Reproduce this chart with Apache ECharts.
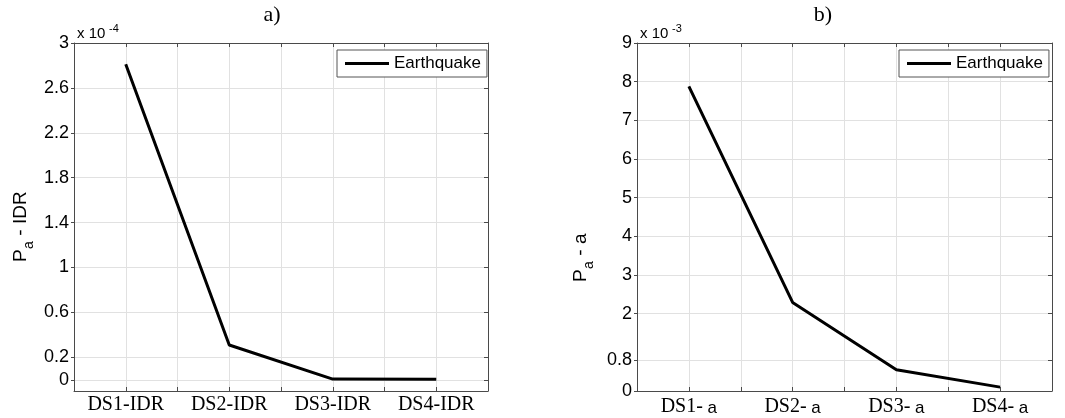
<!DOCTYPE html>
<html>
<head>
<meta charset="utf-8">
<script src="https://cdn.jsdelivr.net/npm/echarts@6/dist/echarts.min.js"></script>
<style>
  html, body { margin: 0; padding: 0; background: #fff; }
  #chart { width: 1065px; height: 418px; }
</style>
</head>
<body>
<div id="chart"></div>
<script>
// Damage states along the x axis (plotted at positions 1..4)
const damageStates = ['DS1', 'DS2', 'DS3', 'DS4'];
const statePositions = [1, 2, 3, 4];

// a) probability per damage state, inter-storey drift (units of 1e-4)
const idrValues = [2.81, 0.31, 0.006, 0.004];
// b) probability per damage state, acceleration (units of 1e-3)
const accValues = [7.88, 2.29, 0.55, 0.10];

// y tick positions
const idrTicks = [0, 0.2, 0.6, 1, 1.4, 1.8, 2.2, 2.6, 3];
const accTicks = [0, 0.8, 2, 3, 4, 5, 6, 7, 8, 9];

const seriesName = 'Earthquake';

const SANS = '"Liberation Sans", Arial, sans-serif';
const SERIF = '"Liberation Serif", "Times New Roman", serif';
const AXIS_COLOR = '#4a4a4a';
const GRID_COLOR = '#e1e1e1';

function pairs(values) {
  return statePositions.map((p, i) => [p, values[i]]);
}

function xAxisPair(gridIndex, labelFormatter, rich) {
  const common = {
    gridIndex, type: 'value', min: 0.5, max: 4.5, interval: 0.5,
    axisLine: { show: true, onZero: false, lineStyle: { color: AXIS_COLOR, width: 1 } },
    axisTick: { show: true, inside: true, length: 4, lineStyle: { color: AXIS_COLOR } }
  };
  return [
    Object.assign({}, common, {
      position: 'bottom',
      axisLabel: {
        show: true, margin: 4, color: '#000',
        fontFamily: SERIF, fontSize: 20,
        formatter: labelFormatter, rich: rich,
        showMinLabel: false, showMaxLabel: false
      },
      splitLine: { show: true, lineStyle: { color: GRID_COLOR, width: 1 } }
    }),
    Object.assign({}, common, {
      position: 'top',
      axisLabel: { show: false },
      splitLine: { show: false }
    })
  ];
}

function yAxisPair(gridIndex, min, max, ticks) {
  const common = {
    gridIndex, type: 'value', min, max,
    axisLine: { show: true, onZero: false, lineStyle: { color: AXIS_COLOR, width: 1 } }
  };
  return [
    Object.assign({}, common, {
      position: 'left',
      axisTick: { show: true, inside: false, length: 3, customValues: ticks, lineStyle: { color: AXIS_COLOR } },
      axisLabel: {
        show: true, margin: 5, color: '#000',
        fontFamily: SANS, fontSize: 18,
        customValues: ticks
      },
      splitLine: { show: true, lineStyle: { color: GRID_COLOR, width: 1 } }
    }),
    Object.assign({}, common, {
      position: 'right',
      axisTick: { show: true, inside: true, length: 4, customValues: ticks, lineStyle: { color: AXIS_COLOR } },
      axisLabel: { show: false },
      splitLine: { show: false }
    })
  ];
}

// Rotated y-axis title: P with subscript a, followed by the quantity
function yTitle(x, y, tail) {
  return {
    type: 'group', x, y, rotation: Math.PI / 2,
    children: [
      { type: 'text', x: 0, y: 0, style: { text: 'P', font: '19px ' + SANS, fill: '#000', textVerticalAlign: 'bottom' } },
      { type: 'text', x: 13, y: 6, style: { text: 'a', font: '14px ' + SANS, fill: '#000', textVerticalAlign: 'bottom' } },
      { type: 'text', x: 21, y: 0, style: { text: tail, font: '19px ' + SANS, fill: '#000', textVerticalAlign: 'bottom' } }
    ]
  };
}

// Exponent note above the y axis
function exponentNote(x, y, exp) {
  return {
    type: 'group', x, y,
    children: [
      { type: 'text', x: 0, y: 0, style: { text: 'x 10', font: '15px ' + SANS, fill: '#000', textVerticalAlign: 'bottom' } },
      { type: 'text', x: 32, y: -7, style: { text: exp, font: '11px ' + SANS, fill: '#000', textVerticalAlign: 'bottom' } }
    ]
  };
}

function legendAt(left) {
  return {
    data: [seriesName], left, top: 50,
    orient: 'horizontal',
    backgroundColor: '#fff', borderColor: '#555', borderWidth: 1,
    padding: [5, 6, 5, 8],
    icon: 'rect', itemWidth: 44, itemHeight: 3,
    itemStyle: { color: '#000' },
    textStyle: { fontFamily: SANS, fontSize: 17, color: '#000' },
    selectedMode: false
  };
}

const chart = echarts.init(document.getElementById('chart'), null, { renderer: 'canvas' });

const xAxes = [].concat(
  xAxisPair(0, v => (Number.isInteger(v) ? damageStates[v - 1] + '-IDR' : '')),
  xAxisPair(1,
    v => (Number.isInteger(v) ? '{s|' + damageStates[v - 1] + '-}{g| a}' : ''),
    {
      s: { fontFamily: SERIF, fontSize: 20, color: '#000', lineHeight: 22, verticalAlign: 'bottom' },
      g: { fontFamily: SANS, fontSize: 17, color: '#000', lineHeight: 22, verticalAlign: 'bottom' }
    })
);

const yAxes = [].concat(
  yAxisPair(0, -0.1, 3, idrTicks),
  yAxisPair(1, 0, 9, accTicks)
);

chart.setOption({
  animation: false,
  backgroundColor: '#fff',
  grid: [
    { left: 74, top: 43, width: 414, height: 348, containLabel: false },
    { left: 637, top: 43, width: 415, height: 348, containLabel: false }
  ],
  xAxis: xAxes,
  yAxis: yAxes,
  legend: [legendAt(337), legendAt(899)],
  series: [
    {
      name: seriesName, type: 'line', xAxisIndex: 0, yAxisIndex: 0,
      data: pairs(idrValues), symbol: 'none',
      lineStyle: { color: '#000', width: 3 }, itemStyle: { color: '#000' }
    },
    {
      name: seriesName, type: 'line', xAxisIndex: 2, yAxisIndex: 2,
      data: pairs(accValues), symbol: 'none',
      lineStyle: { color: '#000', width: 3 }, itemStyle: { color: '#000' }
    }
  ],
  graphic: [
    { type: 'text', x: 272, y: 4, style: { text: 'a)', font: '22px ' + SERIF, fill: '#000', textAlign: 'center', textVerticalAlign: 'top' } },
    { type: 'text', x: 823, y: 4, style: { text: 'b)', font: '22px ' + SERIF, fill: '#000', textAlign: 'center', textVerticalAlign: 'top' } },
    exponentNote(77, 41, '-4'),
    exponentNote(640, 41, '-3'),
    yTitle(30, 262, ' - IDR'),
    yTitle(590, 282, ' - a')
  ]
});
</script>
</body>
</html>
